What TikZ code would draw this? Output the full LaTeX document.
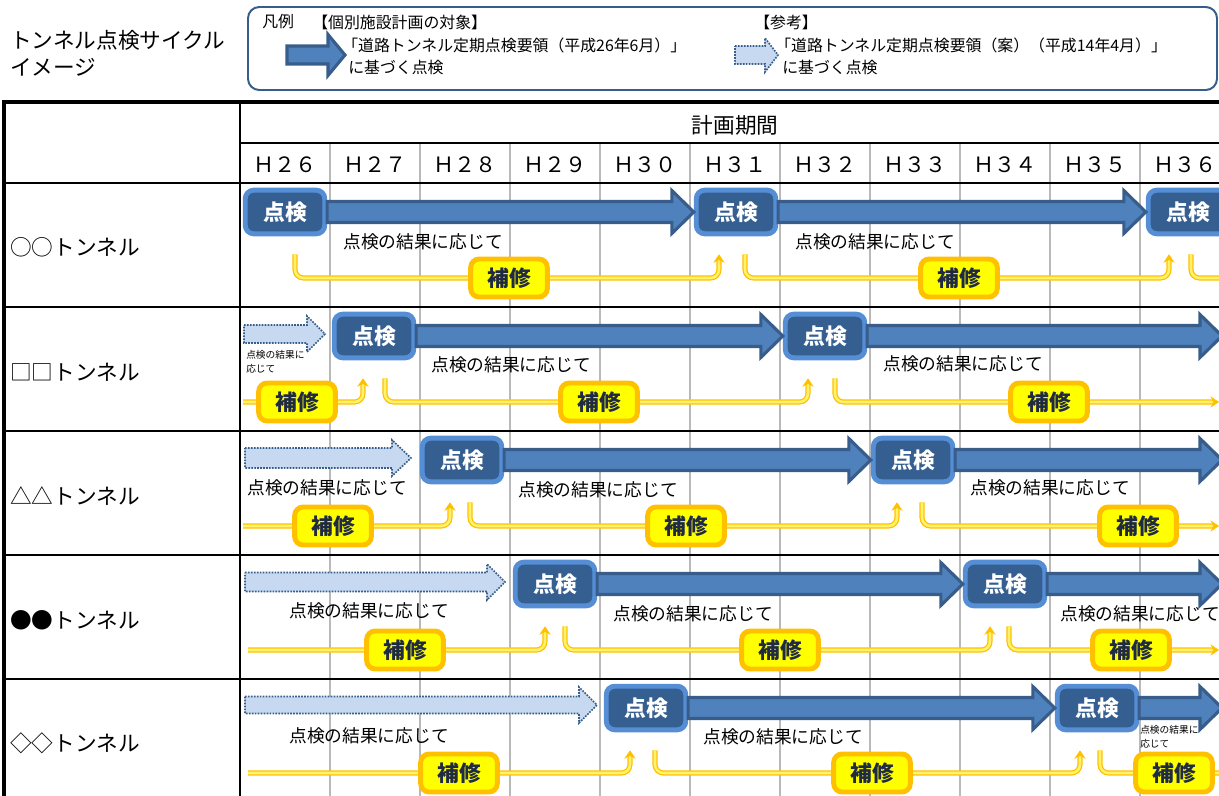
\documentclass[tikz,border=0pt]{standalone}
\usepackage{fontspec}
\setmainfont{Noto Sans CJK JP}
\usetikzlibrary{calc,arrows.meta}

\definecolor{kenlight}{HTML}{558ED5}
\definecolor{kendark}{HTML}{365F91}
\definecolor{arrfill}{HTML}{4F81BD}
\definecolor{arrline}{HTML}{385D8A}
\definecolor{dotfill}{HTML}{C6D9F1}
\definecolor{horange}{HTML}{FFC000}
\definecolor{hyellow}{HTML}{FFFF00}
\definecolor{hnavy}{HTML}{1F2A44}
\definecolor{lineyel}{HTML}{FFF36B}

% block arrow: [style]{start}{tip}{shaft half}{head half}{head length}
\newcommand{\blockarrow}[6][]{%
    \path[#1] ($(#2)+(0,-#4)$) -- ($(#3)+(-#6,-#4)$) -- ($(#3)+(-#6,-#5)$) -- (#3)
        -- ($(#3)+(-#6,#5)$) -- ($(#3)+(-#6,#4)$) -- ($(#2)+(0,#4)$) -- cycle;}

\begin{document}
\begin{tikzpicture}[x=0.025cm, y=-0.025cm,
    kenbox/.style={draw=kenlight, line width=3.5pt, fill=kendark, rounded corners=6pt,
        minimum width=56.5pt, minimum height=31pt, inner sep=0, text=white,
        font=\bfseries\fontsize{15.5}{16}\selectfont},
    hosbox/.style={draw=horange, line width=3.5pt, fill=hyellow, rounded corners=6pt,
        minimum width=54.5pt, minimum height=27pt, inner sep=0, text=hnavy,
        font=\bfseries\fontsize{15.5}{16}\selectfont},
    bigarr/.style={fill=arrfill, draw=arrline, line width=2.2pt, line join=miter},
    dotarr/.style={fill=dotfill, draw=arrline, line width=1.2pt, dash pattern=on 1.2pt off 0.9pt},
    fixline/.style={draw=horange, double=lineyel, double distance=1.8pt, line width=0.9pt,
        rounded corners=6pt},
    fixarr/.style={fixline, -{Stealth[length=6pt, width=8pt]}},
    note/.style={anchor=west, inner sep=0, font=\fontsize{12.6}{14}\selectfont},
    tinynote/.style={anchor=west, inner sep=0, align=left, font=\fontsize{6.9}{10}\selectfont},
    legend/.style={anchor=west, inner sep=0, font=\fontsize{11.3}{13}\selectfont},
    big/.style={inner sep=0, font=\fontsize{15.4}{18}\selectfont},
    ]
    \useasboundingbox (0,0) rectangle (1219,796);
    \clip (0,0) rectangle (1219,796);

    % Title
    \node[big, anchor=west] (title1) at (10,40) {トンネル点検サイクル};
    \node[big, anchor=west] (title2) at (10,67) {イメージ};

    % Legend
    \draw[arrline, line width=1.4pt, rounded corners=8pt] (248,7) rectangle (1217,90);
    \node[legend] (hanrei) at (262,22) {凡例};
    \node[legend] (taisho) at (312,22) {【個別施設計画の対象】};
    \node[legend] (yoryo1) at (342,45) {「道路トンネル定期点検要領（平成26年6月）」};
    \node[legend] (kizuku1) at (348,67) {に基づく点検};
    \coordinate (ls1) at (287,55);
    \coordinate (lt1) at (345,55);
    \blockarrow[bigarr]{ls1}{lt1}{9}{20.5}{17}
    \node[legend] (sanko) at (754,22) {【参考】};
    \node[legend] (yoryo2) at (775,45) {「道路トンネル定期点検要領（案）（平成14年4月）」};
    \node[legend] (kizuku2) at (782,67) {に基づく点検};
    \coordinate (ls2) at (735,55);
    \coordinate (lt2) at (778,55);
    \blockarrow[dotarr]{ls2}{lt2}{9}{17}{13}

    % Table grid
    \foreach \x in {330,420,...,1140}
        \draw[gray!55, line width=1.5pt] (\x,144) -- (\x,796);
    \draw[line width=2.8pt] (4,796) -- (4,102) -- (1219,102);
    \draw[line width=1.4pt] (240,102) -- (240,796);
    \draw[line width=1.8pt] (240,143) -- (1219,143);
    \draw[line width=2.1pt] (4,183) -- (1219,183);
    \foreach \y in {307,431,555,679}
        \draw[line width=1.8pt] (4,\y) -- (1219,\y);

    % Header
    \node[big] (kikan) at (735,125) {計画期間};
    \foreach \yr [count=\i from 0] in {２６,２７,２８,２９,３０,３１,３２,３３,３４,３５,３６}
        \node[big, font=\fontsize{15}{18}\selectfont] (year\i) at (285+90*\i,165) {Ｈ\yr};

    % Tunnel names
    \node[big, anchor=west] (name1) at (10,247) {○○トンネル};
    \node[big, anchor=west] (name2) at (10,372) {□□トンネル};
    \node[big, anchor=west] (name3) at (10,496) {△△トンネル};
    \node[big, anchor=west] (name4) at (10,620) {●●トンネル};
    \node[big, anchor=west] (name5) at (10,743) {◇◇トンネル};

    % Row 1
    \node[kenbox] (k11) at (285,212) {点検};
    \node[kenbox] (k12) at (736,212) {点検};
    \node[kenbox] (k13) at (1188,212) {点検};
    \blockarrow[bigarr]{k11.east}{k12.west}{10.5}{21.5}{22}
    \blockarrow[bigarr]{k12.east}{k13.west}{10.5}{21.5}{22}
    \node[note] (n11) at (343,242) {点検の結果に応じて};
    \node[note] (n12) at (795,242) {点検の結果に応じて};
    \coordinate (r1) at (1240,278);
    \draw[fixarr] ($(k11.south)+(10,18)$) |- (509,278) -| ($(k12.south)+(-17,18)$);
    \draw[fixarr] ($(k12.south)+(9,18)$) |- (959,278) -| ($(k13.south)+(-19,18)$);
    \draw[fixline] ($(k13.south)+(3,18)$) |- (r1);
    \node[hosbox] (h11) at (509,278) {補修};
    \node[hosbox] (h12) at (959,278) {補修};

    % Row 2
    \coordinate (s2) at (244,334);
    \coordinate (t2) at (325,334);
    \blockarrow[dotarr]{s2}{t2}{9}{18}{18}
    \node[tinynote] (m2) at (246,362) {点検の結果に\\応じて};
    \node[kenbox] (k21) at (374,336) {点検};
    \node[kenbox] (k22) at (825,336) {点検};
    \coordinate (e2) at (1222,336);
    \blockarrow[bigarr]{k21.east}{k22.west}{10.5}{21.5}{22}
    \blockarrow[bigarr]{k22.east}{e2}{10.5}{21.5}{22}
    \node[note] (n21) at (431,365) {点検の結果に応じて};
    \node[note] (n22) at (883,364) {点検の結果に応じて};
    \coordinate (l2) at (243,402);
    \coordinate (r2) at (1219,402);
    \draw[fixarr] (l2) -- (297,402) -| ($(k21.south)+(-11,18)$);
    \draw[fixarr] ($(k21.south)+(11,18)$) |- (599,402) -| ($(k22.south)+(-17,18)$);
    \draw[fixarr] ($(k22.south)+(10,18)$) |- (r2);
    \node[hosbox] (h21) at (297,402) {補修};
    \node[hosbox] (h22) at (599,402) {補修};
    \node[hosbox] (h23) at (1049,402) {補修};

    % Row 3
    \coordinate (s3) at (245,458);
    \coordinate (t3) at (411,458);
    \blockarrow[dotarr]{s3}{t3}{10}{18}{19}
    \node[note] (m3) at (247,488) {点検の結果に応じて};
    \node[kenbox] (k31) at (462,460) {点検};
    \node[kenbox] (k32) at (913,460) {点検};
    \coordinate (e3) at (1222,460);
    \blockarrow[bigarr]{k31.east}{k32.west}{10.5}{21.5}{22}
    \blockarrow[bigarr]{k32.east}{e3}{10.5}{21.5}{22}
    \node[note] (n31) at (518,490) {点検の結果に応じて};
    \node[note] (n32) at (970,488) {点検の結果に応じて};
    \coordinate (l3) at (243,526);
    \coordinate (r3) at (1219,526);
    \draw[fixarr] (l3) -- (333,526) -| ($(k31.south)+(-12,18)$);
    \draw[fixarr] ($(k31.south)+(8,18)$) |- (686,526) -| ($(k32.south)+(-16,18)$);
    \draw[fixarr] ($(k32.south)+(9,18)$) |- (r3);
    \node[hosbox] (h31) at (333,526) {補修};
    \node[hosbox] (h32) at (686,526) {補修};
    \node[hosbox] (h33) at (1138,526) {補修};

    % Row 4
    \coordinate (s4) at (245,582);
    \coordinate (t4) at (505,582);
    \blockarrow[dotarr]{s4}{t4}{9.5}{18}{18}
    \node[note] (m4) at (289,611) {点検の結果に応じて};
    \node[kenbox] (k41) at (555,584) {点検};
    \node[kenbox] (k42) at (1005,584) {点検};
    \coordinate (e4) at (1222,584);
    \blockarrow[bigarr]{k41.east}{k42.west}{10.5}{21.5}{22}
    \blockarrow[bigarr]{k42.east}{e4}{10.5}{21.5}{22}
    \node[note] (n41) at (613,614) {点検の結果に応じて};
    \node[note] (n42) at (1060,614) {点検の結果に応じて};
    \coordinate (l4) at (248,650);
    \coordinate (r4) at (1219,650);
    \draw[fixarr] (l4) -- (405,650) -| ($(k41.south)+(-10,18)$);
    \draw[fixarr] ($(k41.south)+(10,18)$) |- (780,650) -| ($(k42.south)+(-15,18)$);
    \draw[fixarr] ($(k42.south)+(4,18)$) |- (r4);
    \node[hosbox] (h41) at (405,650) {補修};
    \node[hosbox] (h42) at (780,650) {補修};
    \node[hosbox] (h43) at (1131,650) {補修};

    % Row 5
    \coordinate (s5) at (245,705);
    \coordinate (t5) at (597,705);
    \blockarrow[dotarr]{s5}{t5}{8.5}{18}{18}
    \node[note] (m5) at (289,736) {点検の結果に応じて};
    \node[kenbox] (k51) at (646,708) {点検};
    \node[kenbox] (k52) at (1097,708) {点検};
    \coordinate (e5) at (1222,708);
    \blockarrow[bigarr]{k51.east}{k52.west}{10.5}{21.5}{22}
    \blockarrow[bigarr]{k52.east}{e5}{10.5}{21.5}{22}
    \node[note] (n51) at (703,737) {点検の結果に応じて};
    \node[tinynote] (n52) at (1140,737) {点検の結果に\\応じて};
    \coordinate (l5) at (248,773);
    \coordinate (r5) at (1240,773);
    \draw[fixarr] (l5) -- (459,773) -| ($(k51.south)+(-16,18)$);
    \draw[fixarr] ($(k51.south)+(9,18)$) |- (872,773) -| ($(k52.south)+(-17,18)$);
    \draw[fixline] ($(k52.south)+(3,18)$) |- (r5);
    \node[hosbox] (h51) at (459,773) {補修};
    \node[hosbox] (h52) at (872,773) {補修};
    \node[hosbox] (h53) at (1174,773) {補修};
\end{tikzpicture}
\end{document}
